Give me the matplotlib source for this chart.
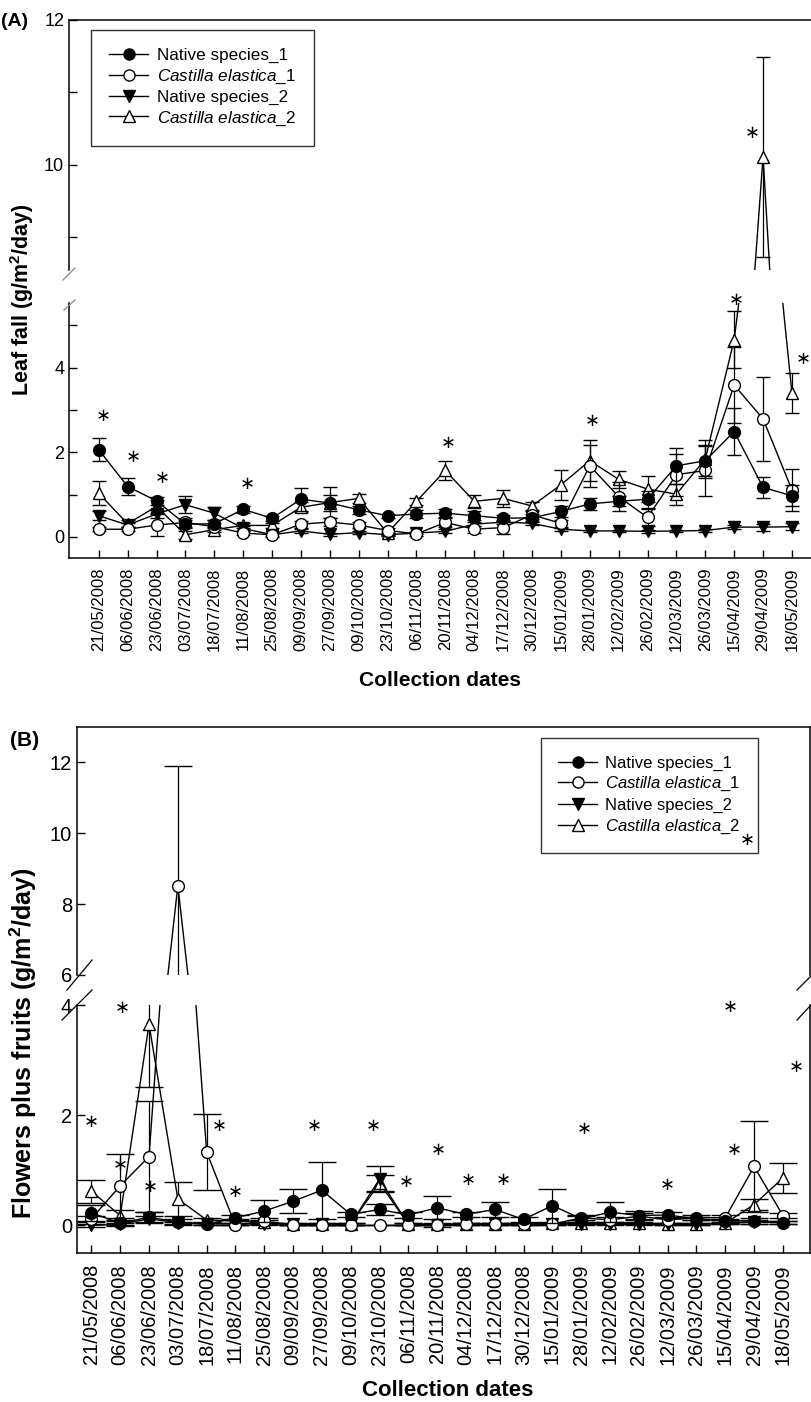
import matplotlib
matplotlib.use("Agg")
import matplotlib.pyplot as plt
from matplotlib.lines import Line2D
import numpy as np

plt.rcParams['font.family'] = ['Liberation Sans', 'DejaVu Sans']
plt.rcParams['mathtext.fontset'] = 'custom'
plt.rcParams['mathtext.rm'] = 'Liberation Sans'
plt.rcParams['mathtext.it'] = 'Liberation Sans:italic'
plt.rcParams['mathtext.bf'] = 'Liberation Sans:bold'

dates = ['21/05/2008', '06/06/2008', '23/06/2008', '03/07/2008', '18/07/2008', '11/08/2008',
         '25/08/2008', '09/09/2008', '27/09/2008', '09/10/2008', '23/10/2008', '06/11/2008',
         '20/11/2008', '04/12/2008', '17/12/2008', '30/12/2008', '15/01/2009', '28/01/2009',
         '12/02/2009', '26/02/2009', '12/03/2009', '26/03/2009', '15/04/2009', '29/04/2009',
         '18/05/2009']

series_labels = ['Native species_1', r'$\mathit{Castilla\ elastica}$_1',
                 'Native species_2', r'$\mathit{Castilla\ elastica}$_2']

# Panel A: leaf fall
leaf_native1 = [2.06, 1.19, 0.85, 0.30, 0.31, 0.65, 0.44, 0.89, 0.80, 0.64, 0.50, 0.54, 0.56,
                0.50, 0.44, 0.45, 0.60, 0.78, 0.84, 0.89, 1.68, 1.80, 2.49, 1.17, 0.97]
leaf_native1_err = [0.27, 0.20, 0.10, 0.10, 0.08, 0.08, 0.06, 0.27, 0.20, 0.10, 0.05, 0.10, 0.10,
                    0.10, 0.08, 0.10, 0.12, 0.15, 0.12, 0.20, 0.42, 0.35, 0.55, 0.25, 0.25]
leaf_cast1 = [0.18, 0.18, 0.28, 0.34, 0.24, 0.09, 0.05, 0.30, 0.35, 0.28, 0.15, 0.07, 0.34,
              0.18, 0.22, 0.52, 0.32, 1.68, 0.95, 0.46, 1.47, 1.57, 3.59, 2.79, 1.11]
leaf_cast1_err = [0.05, 0.05, 0.25, 0.10, 0.08, 0.05, 0.05, 0.08, 0.10, 0.06, 0.05, 0.05, 0.10,
                  0.08, 0.15, 0.10, 0.08, 0.50, 0.35, 0.20, 0.50, 0.60, 0.90, 1.00, 0.50]
leaf_native2 = [0.50, 0.28, 0.54, 0.76, 0.56, 0.20, 0.05, 0.14, 0.06, 0.10, 0.05, 0.09, 0.13,
                0.30, 0.35, 0.32, 0.18, 0.14, 0.14, 0.13, 0.14, 0.15, 0.23, 0.23, 0.24]
leaf_native2_err = [0.10, 0.05, 0.10, 0.20, 0.15, 0.05, 0.03, 0.05, 0.03, 0.03, 0.03, 0.03, 0.05,
                    0.05, 0.05, 0.05, 0.03, 0.03, 0.03, 0.03, 0.03, 0.03, 0.05, 0.08, 0.08]
leaf_cast2 = [1.03, 0.31, 0.72, 0.05, 0.17, 0.27, 0.27, 0.70, 0.81, 0.91, 0.09, 0.84, 1.57,
              0.84, 0.91, 0.73, 1.23, 1.80, 1.36, 1.13, 1.01, 1.84, 4.66, 10.11, 3.40]
leaf_cast2_err = [0.28, 0.10, 0.15, 0.10, 0.05, 0.05, 0.05, 0.12, 0.36, 0.10, 0.05, 0.08, 0.22,
                  0.15, 0.20, 0.10, 0.35, 0.48, 0.20, 0.30, 0.25, 0.45, 0.67, 1.38, 0.47]
leaf_star_x = [0.17, 1.19, 2.2, 5.14, 12.1, 17.1, 22.08, 24.4, 22.64]
leaf_star_y = [2.85, 1.88, 1.39, 1.25, 2.23, 2.73, 5.6, 4.2, 10.44]

# Panel B: flowers plus fruits
fl_native1 = [0.23, 0.04, 0.15, 0.06, 0.02, 0.14, 0.26, 0.44, 0.64, 0.20, 0.29, 0.19, 0.32,
              0.20, 0.29, 0.11, 0.36, 0.12, 0.24, 0.18, 0.19, 0.12, 0.08, 0.08, 0.05]
fl_native1_err = [0.15, 0.05, 0.10, 0.05, 0.02, 0.05, 0.20, 0.22, 0.52, 0.05, 0.10, 0.05, 0.21,
                  0.05, 0.14, 0.05, 0.31, 0.05, 0.18, 0.08, 0.05, 0.03, 0.03, 0.05, 0.03]
fl_cast1 = [0.12, 0.72, 1.25, 8.52, 1.33, 0.00, 0.08, 0.00, 0.00, 0.00, 0.00, 0.00, 0.00,
            0.02, 0.02, 0.02, 0.02, 0.14, 0.10, 0.17, 0.10, 0.14, 0.14, 1.07, 0.18]
fl_cast1_err = [0.05, 0.58, 1.00, 3.38, 0.69, 0.00, 0.05, 0.00, 0.00, 0.00, 0.00, 0.00, 0.00,
                0.02, 0.02, 0.02, 0.02, 0.05, 0.05, 0.05, 0.05, 0.05, 0.05, 0.83, 0.05]
fl_native2 = [0.00, 0.02, 0.12, 0.05, 0.03, 0.03, 0.03, 0.02, 0.02, 0.03, 0.84, 0.02, 0.00,
              0.02, 0.02, 0.02, 0.02, 0.03, 0.02, 0.02, 0.02, 0.02, 0.04, 0.06, 0.05]
fl_native2_err = [0.02, 0.02, 0.05, 0.02, 0.02, 0.02, 0.02, 0.02, 0.02, 0.02, 0.24, 0.02, 0.02,
                  0.02, 0.02, 0.02, 0.02, 0.02, 0.02, 0.02, 0.02, 0.02, 0.02, 0.03, 0.03]
fl_cast2 = [0.62, 0.18, 3.65, 0.48, 0.10, 0.08, 0.06, 0.02, 0.03, 0.03, 0.77, 0.02, 0.02,
            0.02, 0.02, 0.02, 0.04, 0.04, 0.05, 0.04, 0.02, 0.02, 0.04, 0.38, 0.86]
fl_cast2_err = [0.21, 0.10, 1.13, 0.30, 0.03, 0.03, 0.03, 0.02, 0.02, 0.02, 0.15, 0.02, 0.02,
                0.02, 0.02, 0.02, 0.02, 0.02, 0.02, 0.02, 0.02, 0.02, 0.02, 0.10, 0.28]
fl_star_x = [0.0, 1.06, 1.02, 2.06, 4.43, 5.0, 7.75, 9.78, 10.94, 12.03, 13.07, 14.3, 17.1,
             19.99, 22.16, 22.3, 24.47, 22.78]
fl_star_y = [1.87, 3.95, 1.1, 0.7, 1.8, 0.61, 1.8, 1.8, 0.79, 1.37, 0.83, 0.83, 1.75,
             0.74, 3.97, 1.36, 2.87, 9.8]

W, H = 811, 1402
fig = plt.figure(figsize=(W / 100, H / 100), dpi=100)


def rect(x0, y0, x1, y1):
    return [x0 / W, 1 - y1 / H, (x1 - x0) / W, (y1 - y0) / H]


def fpt(x, y):
    return (x / W, 1 - y / H)


x = np.arange(len(dates))
marker_specs = [('o', 'black'), ('o', 'white'), ('v', 'black'), ('^', 'white')]


def draw(ax, data, errs, capsize):
    for i in [3, 2, 1, 0]:
        (m, fc) = marker_specs[i]
        ax.errorbar(x, data[i], yerr=errs[i], fmt='-', color='black', lw=1.0,
                    marker=m, mfc=fc, mec='black', mew=1.0, ms=8.5,
                    ecolor='black', elinewidth=0.9, capsize=capsize, capthick=0.9,
                    zorder=3 + (3 - i))


def legend_handles():
    return [Line2D([], [], color='black', lw=1.0, marker=m, mfc=fc, mec='black', ms=8)
            for (m, fc) in marker_specs]


def style_axes(ax, size):
    ax.tick_params(direction='in', length=6, width=1, labelsize=size, colors='black')
    ax.tick_params(which='minor', direction='in', length=6, width=1)
    for s in ax.spines.values():
        s.set_linewidth(1.1)


def stars(ax, xs, ys):
    for xi, yi in zip(xs, ys):
        ax.text(xi, yi, '\u2217', ha='center', va='center', fontsize=13,
                family='DejaVu Sans', clip_on=False, zorder=10)


# ---------------- Panel A ----------------
axA_up = fig.add_axes(rect(69, 20, 811, 270))
axA_lo = fig.add_axes(rect(69, 303, 811, 558))
dataA = [leaf_native1, leaf_cast1, leaf_native2, leaf_cast2]
errA = [leaf_native1_err, leaf_cast1_err, leaf_native2_err, leaf_cast2_err]
for ax in (axA_up, axA_lo):
    draw(ax, dataA, errA, 5)
    ax.set_xlim(-1.03, 24.66)
    style_axes(ax, 13)
    ax.spines['right'].set_visible(False)

axA_up.set_ylim(8.55, 12)
axA_up.set_yticks([10, 12])
axA_up.set_yticks([9, 11], minor=True)
axA_up.spines['bottom'].set_visible(False)
axA_up.set_xticks([])
axA_lo.set_ylim(-0.5, 5.53)
axA_lo.set_yticks([0, 1, 2, 3, 4, 5])
axA_lo.set_yticklabels(['0', '', '2', '', '4', ''])
axA_lo.spines['top'].set_visible(False)
axA_lo.set_xticks(x)
axA_lo.set_xticklabels(dates, rotation=90, fontsize=12)
axA_lo.tick_params(axis='x', pad=7, labelsize=12)

stars(axA_lo, leaf_star_x[:8], leaf_star_y[:8])
stars(axA_up, leaf_star_x[8:], leaf_star_y[8:])

legA = axA_up.legend(legend_handles(), series_labels, loc='upper left',
                     bbox_to_anchor=(0.0296, 0.96), fontsize=12.3, frameon=True, fancybox=False,
                     edgecolor='black', handlelength=2.3, borderpad=1.05, labelspacing=0.25,
                     handletextpad=0.5, borderaxespad=0)
legA.get_frame().set_linewidth(1.0)

for (a, b) in [((63, 280), (75, 268)), ((64, 310), (75, 300))]:
    fig.add_artist(Line2D([fpt(*a)[0], fpt(*b)[0]], [fpt(*a)[1], fpt(*b)[1]],
                          color='#888888', lw=0.9))

fig.text(1 / W, 1 - 21 / H, '(A)', fontsize=14, fontweight='bold', ha='left', va='center')
fig.text(22 / W, 1 - 300 / H, r'Leaf fall (g/m$^{\mathbf{2}}$/day)', rotation=90, fontsize=15.5,
         fontweight='bold', ha='center', va='center')
fig.text(440 / W, 1 - 680 / H, 'Collection dates', fontsize=15, fontweight='bold',
         ha='center', va='center')

# ---------------- Panel B ----------------
axB_up = fig.add_axes(rect(77, 727, 810, 975))
axB_lo = fig.add_axes(rect(77, 1005, 810, 1253))
dataB = [fl_native1, fl_cast1, fl_native2, fl_cast2]
errB = [fl_native1_err, fl_cast1_err, fl_native2_err, fl_cast2_err]
for ax in (axB_up, axB_lo):
    draw(ax, dataB, errB, 10)
    ax.set_xlim(-0.5, 24.94)
    style_axes(ax, 14.5)

axB_up.set_ylim(6, 13)
axB_up.set_yticks([6, 8, 10, 12])
axB_up.spines['bottom'].set_visible(False)
axB_up.set_xticks([])
axB_lo.set_ylim(-0.5, 4)
axB_lo.set_yticks([0, 2, 4])
axB_lo.spines['top'].set_visible(False)
axB_lo.set_xticks(x)
axB_lo.set_xticklabels(dates, rotation=90, fontsize=14.5)
axB_lo.tick_params(axis='x', pad=8, labelsize=14.5)

stars(axB_lo, fl_star_x[:17], fl_star_y[:17])
stars(axB_up, fl_star_x[17:], fl_star_y[17:])

legB = axB_up.legend(legend_handles(), series_labels, loc='upper left',
                     bbox_to_anchor=(0.633, 0.956), fontsize=12, frameon=True, fancybox=False,
                     edgecolor='black', handlelength=2.3, borderpad=1.05, labelspacing=0.27,
                     handletextpad=0.5, borderaxespad=0)
legB.get_frame().set_linewidth(1.0)
legB.set_zorder(5)

for (a, b) in [((67, 990), (92, 960)), ((62, 1020), (92, 990)),
               ((797, 990), (811, 976)), ((797, 1020), (811, 1005))]:
    fig.add_artist(Line2D([fpt(*a)[0], fpt(*b)[0]], [fpt(*a)[1], fpt(*b)[1]],
                          color='black', lw=0.9))

fig.text(10 / W, 1 - 741 / H, '(B)', fontsize=15, fontweight='bold', ha='left', va='center')
fig.text(23 / W, 1 - 1043 / H, r'Flowers plus fruits (g/m$^{\mathbf{2}}$/day)', rotation=90,
         fontsize=18, fontweight='bold', ha='center', va='center')
fig.text(448 / W, 1 - 1390 / H, 'Collection dates', fontsize=16, fontweight='bold',
         ha='center', va='center')

fig.savefig('out.png', dpi=100)
